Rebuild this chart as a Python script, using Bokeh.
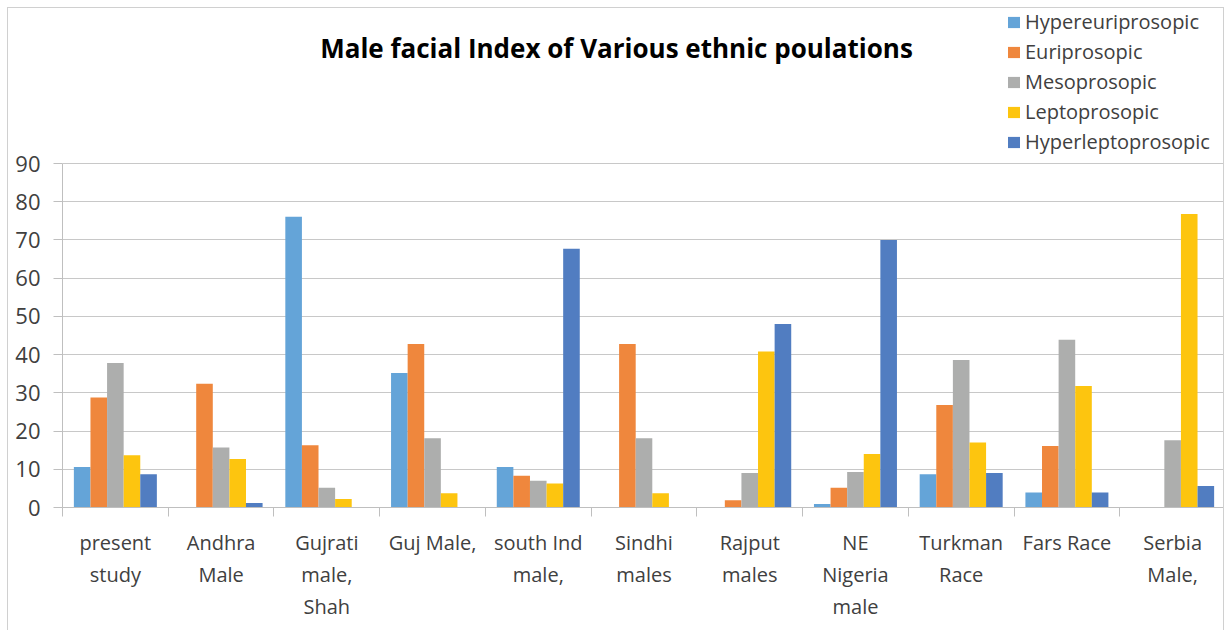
from bokeh.plotting import figure
from bokeh.models import (ColumnDataSource, Range1d, FixedTicker, Legend, LegendItem, Label)
from bokeh.transform import dodge
from bokeh.embed import file_html
from bokeh.resources import INLINE

categories = ["present study", "Andhra Male", "Gujrati male, Shah", "Guj Male,",
              "south Ind male,", "Sindhi males", "Rajput males", "NE Nigeria male",
              "Turkman Race", "Fars Race", "Serbia Male,"]
tick_labels = ["present\nstudy", "Andhra\nMale", "Gujrati\nmale,\nShah", "Guj Male,",
               "south Ind\nmale,", "Sindhi\nmales", "Rajput\nmales", "NE\nNigeria\nmale",
               "Turkman\nRace", "Fars Race", "Serbia\nMale,"]
series = ["Hypereuriprosopic", "Euriprosopic", "Mesoprosopic", "Leptoprosopic", "Hyperleptoprosopic"]
hypereuriprosopic  = [10.6, 0, 76.1, 35.2, 10.6, 0, 0, 0.9, 8.7, 3.9, 0]
euriprosopic       = [28.8, 32.4, 16.3, 42.8, 8.3, 42.8, 1.9, 5.2, 26.8, 16.1, 0]
mesoprosopic       = [37.8, 15.7, 5.2, 18.1, 7.0, 18.1, 9.0, 9.3, 38.6, 43.9, 17.6]
leptoprosopic      = [13.7, 12.7, 2.2, 3.7, 6.3, 3.7, 40.8, 14.0, 17.0, 31.8, 76.8]
hyperleptoprosopic = [8.7, 1.2, 0, 0, 67.7, 0, 48.0, 70.0, 9.0, 3.9, 5.6]
y_ticks = [0, 10, 20, 30, 40, 50, 60, 70, 80, 90]
title_text = "Male facial Index of Various ethnic poulations"

colors = ["#64A4D8", "#EF873D", "#ADAEAD", "#FDC50F", "#517DC1"]
values = [hypereuriprosopic, euriprosopic, mesoprosopic, leptoprosopic, hyperleptoprosopic]

n = len(categories)
centers = [i + 0.5 for i in range(n)]
data = {"x": centers, "cat": categories}
for s, v in zip(series, values):
    data[s] = v
source = ColumnDataSource(data)

W, H = 1217, 623
p = figure(width=W, height=H, output_backend="svg", toolbar_location=None,
           x_range=Range1d(0, n), y_range=Range1d(0, 130.56),
           min_border_left=54, min_border_right=0, min_border_top=0, min_border_bottom=124,
           tools="")
p.styles = {"margin-left": "7px", "margin-top": "7px",
            "border-left": "1px solid #d0d0d0", "border-top": "1px solid #d0d0d0",
            "border-right": "1px solid #d0d0d0"}
p.outline_line_color = None
p.background_fill_color = "white"
p.border_fill_color = "white"

bw = 0.157
items = []
for k, (s, c) in enumerate(zip(series, colors)):
    r = p.vbar(x=dodge("x", (k - 2) * bw, range=p.x_range), top=s, width=bw, source=source,
               fill_color=c, line_color=None)
    items.append(LegendItem(label=s, renderers=[r]))

# y axis
p.yaxis.ticker = FixedTicker(ticks=y_ticks)
p.yaxis.bounds = (0, 90)
p.yaxis.axis_line_color = "#BFBFBF"
p.yaxis.major_tick_line_color = "#BFBFBF"
p.yaxis.major_tick_out = 9
p.yaxis.major_tick_in = 0
p.yaxis.minor_tick_line_color = None
p.yaxis.major_label_text_font = "Open Sans"
p.yaxis.major_label_text_font_size = "22px"
p.yaxis.major_label_text_color = "#404040"
p.yaxis.major_label_standoff = 13

# x axis
p.xaxis.ticker = FixedTicker(ticks=centers, minor_ticks=list(range(n + 1)))
p.xaxis.major_label_overrides = {c: t for c, t in zip(centers, tick_labels)}
p.xaxis.axis_line_color = "#BFBFBF"
p.xaxis.major_tick_line_color = None
p.xaxis.minor_tick_line_color = "#BFBFBF"
p.xaxis.minor_tick_out = 9
p.xaxis.minor_tick_in = 0
p.xaxis.major_label_text_font = "Open Sans"
p.xaxis.major_label_text_font_size = "20px"
p.xaxis.major_label_text_color = "#404040"
p.xaxis.major_label_text_line_height = 1.2
p.xaxis.major_label_standoff = 12

p.xgrid.grid_line_color = None
p.ygrid.ticker = FixedTicker(ticks=y_ticks)
p.ygrid.grid_line_color = "#C8C8C8"
p.ygrid.grid_line_width = 1

legend = Legend(items=items, location=(944, 351), label_text_font="Open Sans",
                label_text_font_size="20px", label_text_color="#404040",
                glyph_height=14, glyph_width=15, label_height=29, spacing=1,
                padding=0, margin=0, label_standoff=4,
                border_line_color=None, background_fill_alpha=0)
p.add_layout(legend)

title = Label(x=5.24, y=120.1, text=title_text, text_font="Open Sans", text_font_style="bold",
              text_font_size="26px", text_color="#000000", text_align="center",
              text_baseline="middle")
p.add_layout(title)

open("out.html", "w").write(file_html(p, INLINE))
